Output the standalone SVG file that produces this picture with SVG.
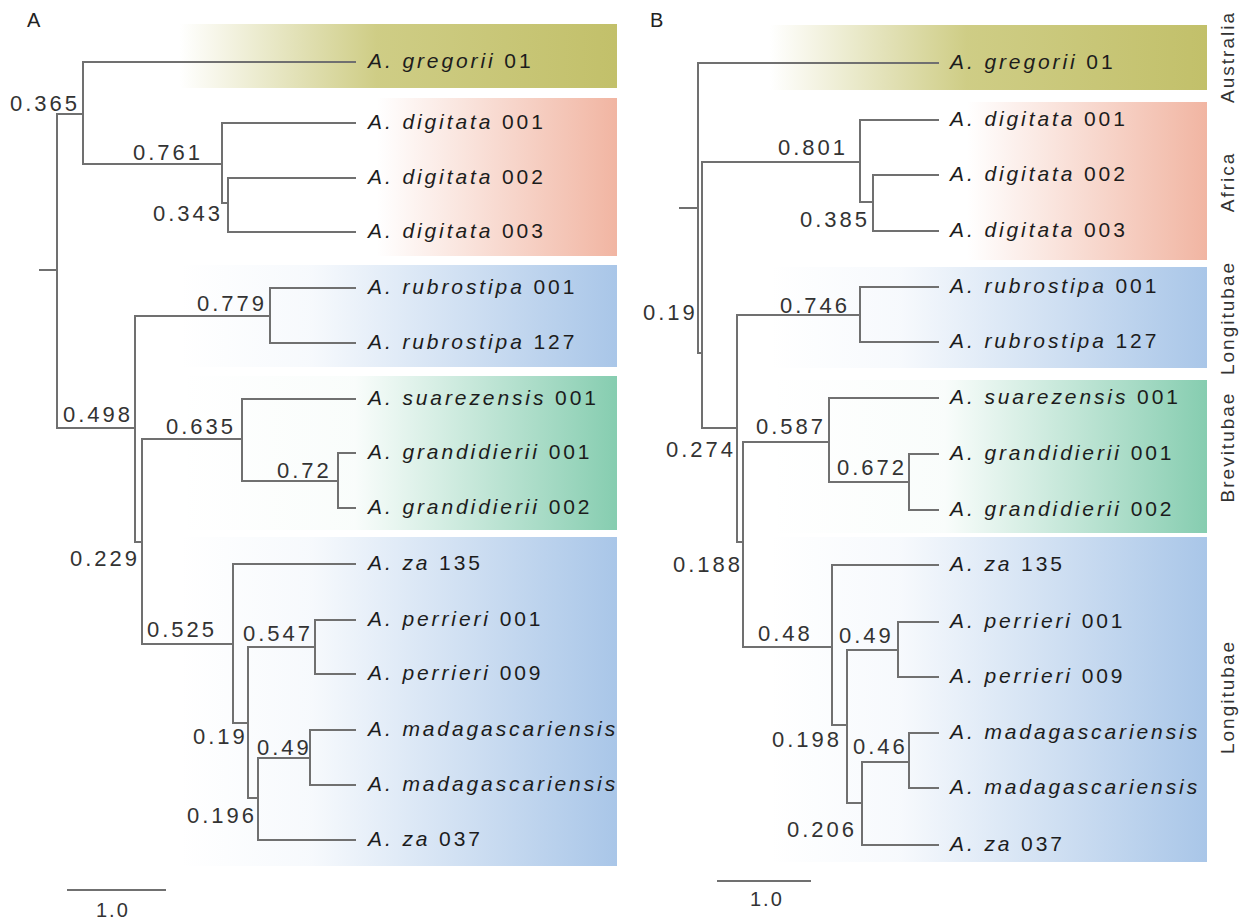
<svg xmlns="http://www.w3.org/2000/svg" width="1254" height="920" viewBox="0 0 1254 920">
  <defs>
    <linearGradient id="gOlive" x1="0" y1="0" x2="1" y2="0">
      <stop offset="0" stop-color="#c6c470" stop-opacity="0"/>
      <stop offset="0.45" stop-color="#c6c470" stop-opacity="0.85"/>
      <stop offset="1" stop-color="#c2c06a"/>
    </linearGradient>
    <linearGradient id="gSalmon" x1="0" y1="0" x2="1" y2="0">
      <stop offset="0" stop-color="#f1b5a2" stop-opacity="0"/>
      <stop offset="0.45" stop-color="#f1b5a2" stop-opacity="0"/>
      <stop offset="1" stop-color="#f1b5a2"/>
    </linearGradient>
    <linearGradient id="gBlue" x1="0" y1="0" x2="1" y2="0">
      <stop offset="0" stop-color="#a9c6e8" stop-opacity="0"/>
      <stop offset="0.3" stop-color="#a9c6e8" stop-opacity="0.1"/>
      <stop offset="1" stop-color="#a9c6e8"/>
    </linearGradient>
    <linearGradient id="gGreen" x1="0" y1="0" x2="1" y2="0">
      <stop offset="0" stop-color="#8acfb2" stop-opacity="0"/>
      <stop offset="0.4" stop-color="#8acfb2" stop-opacity="0.05"/>
      <stop offset="1" stop-color="#86cdb0"/>
    </linearGradient>
    <style>
      .edge { fill: none; stroke: #707070; stroke-width: 2; stroke-linecap: square; }
      .sp { font-family: "Liberation Sans", Arial, sans-serif; font-size: 21px; letter-spacing: 2.9px; fill: #1c1c1c; }
      .sp .i { font-style: italic; }
      .bs { font-family: "Liberation Sans", Arial, sans-serif; font-size: 22px; letter-spacing: 3px; fill: #333; }
      .panel { font-family: "Liberation Sans", Arial, sans-serif; font-size: 20px; fill: #222; }
      .region { font-family: "Liberation Sans", Arial, sans-serif; font-size: 19px; letter-spacing: 2px; fill: #333; text-anchor: middle; }
      .scale { font-family: "Liberation Sans", Arial, sans-serif; font-size: 20px; letter-spacing: 2px; fill: #333; }
    </style>
  </defs>

  <rect width="1254" height="920" fill="#ffffff"/>

  <!-- clade bands, panel A -->
  <g id="bands-a">
    <rect x="180" y="24" width="437" height="64" fill="url(#gOlive)"/>
    <rect x="180" y="98" width="437" height="158" fill="url(#gSalmon)"/>
    <rect x="180" y="265" width="437" height="102" fill="url(#gBlue)"/>
    <rect x="180" y="376" width="437" height="154" fill="url(#gGreen)"/>
    <rect x="180" y="537" width="437" height="329" fill="url(#gBlue)"/>
  </g>
  <!-- clade bands, panel B -->
  <g id="bands-b">
    <rect x="770" y="25" width="437" height="65" fill="url(#gOlive)"/>
    <rect x="770" y="102" width="437" height="158" fill="url(#gSalmon)"/>
    <rect x="770" y="267" width="437" height="101" fill="url(#gBlue)"/>
    <rect x="770" y="380" width="437" height="153" fill="url(#gGreen)"/>
    <rect x="770" y="537" width="437" height="325" fill="url(#gBlue)"/>
  </g>

  <text class="panel" x="27" y="27">A</text>
  <text class="panel" x="650" y="27">B</text>

  <!-- branches -->
  <g id="connectors">
    <g id="edges-a">
      <path class="edge" d="M40 270 H57 M57 114 V428 M57 114 H83 M83 62 V164 M83 62 H355"/>
      <path class="edge" d="M83 164 H222 M222 123 V203 M222 123 H355 M222 203 H228 M228 178 V232 M228 178 H355 M228 232 H355"/>
      <path class="edge" d="M57 428 H135 M135 316 V542 M135 316 H270 M270 288 V343 M270 288 H355 M270 343 H355"/>
      <path class="edge" d="M135 542 H142 M142 439 V644 M142 439 H242 M242 399 V481 M242 399 H355 M242 481 H338 M338 453 V508 M338 453 H355 M338 508 H355"/>
      <path class="edge" d="M142 644 H233 M233 564 V723 M233 564 H355 M233 723 H248 M248 647 V798 M248 647 H315 M315 620 V674 M315 620 H355 M315 674 H355"/>
      <path class="edge" d="M248 798 H258 M258 758 V840 M258 758 H310 M310 730 V785 M310 730 H355 M310 785 H355 M258 840 H355"/>
      <path class="edge" d="M68 890 H165"/>
    </g>
    <g id="edges-b">
      <path class="edge" d="M680 208 H698 M698 63 V353 H702 M702 162 V428 M698 63 H938"/>
      <path class="edge" d="M702 162 H860 M860 120 V202 M860 120 H938 M860 202 H873 M873 175 V231 M873 175 H938 M873 231 H938"/>
      <path class="edge" d="M702 428 H737 M737 315 V542 M737 315 H860 M860 287 V342 M860 287 H938 M860 342 H938"/>
      <path class="edge" d="M737 542 H743 M743 442 V647 M743 442 H829 M829 398 V482 M829 398 H938 M829 482 H909 M909 454 V510 M909 454 H938 M909 510 H938"/>
      <path class="edge" d="M743 647 H832 M832 565 V725 M832 565 H938 M832 725 H847 M847 650 V803 M847 650 H898 M898 622 V677 M898 622 H938 M898 677 H938"/>
      <path class="edge" d="M847 803 H862 M862 762 V845 M862 762 H909 M909 733 V788 M909 733 H938 M909 788 H938 M862 845 H938"/>
      <path class="edge" d="M718 881 H810"/>
    </g>
  </g>

  <!-- tip labels, panel A -->
  <g id="tips-a" class="sp">
    <g id="a-gregorii-01"><text x="368" y="68"><tspan class="i">A. gregorii</tspan> 01</text></g>
    <g id="a-digitata-001"><text x="368" y="129"><tspan class="i">A. digitata</tspan> 001</text></g>
    <g id="a-digitata-002"><text x="368" y="184"><tspan class="i">A. digitata</tspan> 002</text></g>
    <g id="a-digitata-003"><text x="368" y="238"><tspan class="i">A. digitata</tspan> 003</text></g>
    <g id="a-rubrostipa-001"><text x="368" y="294"><tspan class="i">A. rubrostipa</tspan> 001</text></g>
    <g id="a-rubrostipa-127"><text x="368" y="349"><tspan class="i">A. rubrostipa</tspan> 127</text></g>
    <g id="a-suarezensis-001"><text x="368" y="405"><tspan class="i">A. suarezensis</tspan> 001</text></g>
    <g id="a-grandidierii-001"><text x="368" y="459"><tspan class="i">A. grandidierii</tspan> 001</text></g>
    <g id="a-grandidierii-002"><text x="368" y="514"><tspan class="i">A. grandidierii</tspan> 002</text></g>
    <g id="a-za-135"><text x="368" y="570"><tspan class="i">A. za</tspan> 135</text></g>
    <g id="a-perrieri-001"><text x="368" y="626"><tspan class="i">A. perrieri</tspan> 001</text></g>
    <g id="a-perrieri-009"><text x="368" y="680"><tspan class="i">A. perrieri</tspan> 009</text></g>
    <g id="a-madagascariensis-1"><text x="368" y="736"><tspan class="i">A. madagascariensis</tspan></text></g>
    <g id="a-madagascariensis-2"><text x="368" y="791"><tspan class="i">A. madagascariensis</tspan></text></g>
    <g id="a-za-037"><text x="368" y="846"><tspan class="i">A. za</tspan> 037</text></g>
  </g>

  <!-- tip labels, panel B -->
  <g id="tips-b" class="sp">
    <g id="b-gregorii-01"><text x="950" y="69"><tspan class="i">A. gregorii</tspan> 01</text></g>
    <g id="b-digitata-001"><text x="950" y="126"><tspan class="i">A. digitata</tspan> 001</text></g>
    <g id="b-digitata-002"><text x="950" y="181"><tspan class="i">A. digitata</tspan> 002</text></g>
    <g id="b-digitata-003"><text x="950" y="237"><tspan class="i">A. digitata</tspan> 003</text></g>
    <g id="b-rubrostipa-001"><text x="950" y="293"><tspan class="i">A. rubrostipa</tspan> 001</text></g>
    <g id="b-rubrostipa-127"><text x="950" y="348"><tspan class="i">A. rubrostipa</tspan> 127</text></g>
    <g id="b-suarezensis-001"><text x="950" y="404"><tspan class="i">A. suarezensis</tspan> 001</text></g>
    <g id="b-grandidierii-001"><text x="950" y="460"><tspan class="i">A. grandidierii</tspan> 001</text></g>
    <g id="b-grandidierii-002"><text x="950" y="516"><tspan class="i">A. grandidierii</tspan> 002</text></g>
    <g id="b-za-135"><text x="950" y="571"><tspan class="i">A. za</tspan> 135</text></g>
    <g id="b-perrieri-001"><text x="950" y="628"><tspan class="i">A. perrieri</tspan> 001</text></g>
    <g id="b-perrieri-009"><text x="950" y="683"><tspan class="i">A. perrieri</tspan> 009</text></g>
    <g id="b-madagascariensis-1"><text x="950" y="739"><tspan class="i">A. madagascariensis</tspan></text></g>
    <g id="b-madagascariensis-2"><text x="950" y="794"><tspan class="i">A. madagascariensis</tspan></text></g>
    <g id="b-za-037"><text x="950" y="851"><tspan class="i">A. za</tspan> 037</text></g>
  </g>

  <!-- support values, panel A -->
  <g id="support-a" class="bs">
    <g id="a-n1"><text x="10" y="111">0.365</text></g>
    <g id="a-n2"><text x="133" y="160">0.761</text></g>
    <g id="a-n3"><text x="153" y="221">0.343</text></g>
    <g id="a-n4"><text x="197" y="311">0.779</text></g>
    <g id="a-n5"><text x="63" y="422">0.498</text></g>
    <g id="a-n6"><text x="166" y="434">0.635</text></g>
    <g id="a-n7"><text x="277" y="478">0.72</text></g>
    <g id="a-n8"><text x="70" y="566">0.229</text></g>
    <g id="a-n9"><text x="147" y="637">0.525</text></g>
    <g id="a-n10"><text x="243" y="641">0.547</text></g>
    <g id="a-n11"><text x="193" y="744">0.19</text></g>
    <g id="a-n12"><text x="257" y="755">0.49</text></g>
    <g id="a-n13"><text x="187" y="823">0.196</text></g>
  </g>

  <!-- support values, panel B -->
  <g id="support-b" class="bs">
    <g id="b-n1"><text x="778" y="155">0.801</text></g>
    <g id="b-n2"><text x="800" y="227">0.385</text></g>
    <g id="b-n3"><text x="643" y="320">0.19</text></g>
    <g id="b-n4"><text x="780" y="313">0.746</text></g>
    <g id="b-n5"><text x="666" y="457">0.274</text></g>
    <g id="b-n6"><text x="756" y="434">0.587</text></g>
    <g id="b-n7"><text x="837" y="475">0.672</text></g>
    <g id="b-n8"><text x="673" y="572">0.188</text></g>
    <g id="b-n9"><text x="758" y="641">0.48</text></g>
    <g id="b-n10"><text x="839" y="643">0.49</text></g>
    <g id="b-n11"><text x="772" y="747">0.198</text></g>
    <g id="b-n12"><text x="853" y="754">0.46</text></g>
    <g id="b-n13"><text x="787" y="837">0.206</text></g>
  </g>

  <!-- scale bar labels -->
  <text class="scale" x="96" y="917">1.0</text>
  <text class="scale" x="750" y="906">1.0</text>

  <!-- region labels -->
  <g id="regions" class="region">
    <text transform="translate(1234 57) rotate(-90)">Australia</text>
    <text transform="translate(1234 182) rotate(-90)">Africa</text>
    <text transform="translate(1234 318) rotate(-90)">Longitubae</text>
    <text transform="translate(1234 447) rotate(-90)">Brevitubae</text>
    <text transform="translate(1234 697) rotate(-90)">Longitubae</text>
  </g>
</svg>
